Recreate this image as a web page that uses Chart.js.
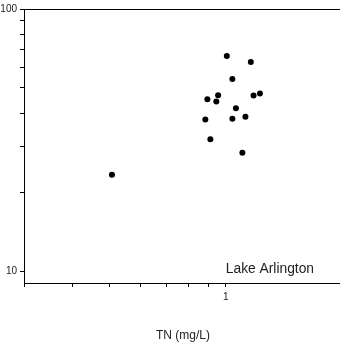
<!DOCTYPE html>
<html>
<head>
<meta charset="utf-8">
<script src="https://cdn.jsdelivr.net/npm/chart.js@4"></script>
<style>
  html, body { margin: 0; padding: 0; background: #fff; overflow: hidden; }
  #wrap { width: 346px; height: 349px; }
</style>
</head>
<body>
<div id="wrap"><canvas id="myChart"></canvas></div>
<script>
// TN vs chlorophyll values (log-log)
const tnValues = [1.006, 1.161, 1.040, 0.955, 0.896, 0.945, 1.180, 1.226, 1.062, 0.885, 1.040, 1.124, 0.912, 1.104, 0.507];
const yValues = [66.1, 62.7, 54.0, 46.9, 45.2, 44.4, 46.8, 47.6, 41.8, 37.9, 38.1, 38.8, 31.8, 28.3, 23.3];
// tick marks on each axis and the ones that get a label
const xTicks = [0.3, 0.4, 0.5, 0.6, 0.7, 0.8, 0.9, 1, 2];
const xLabels = [1];
const yTicks = [10, 20, 30, 40, 50, 60, 70, 80, 90, 100];
const yLabels = [10, 100];
const lakeName = "Lake Arlington";

let points = [];
tnValues.forEach((v, i) => points.push({x: v, y: yValues[i]}));

//Draws the top frame line and the lake name
const extras = {
  id: 'extras',
  afterDraw(chart) {
    const c = chart.ctx;
    const a = chart.chartArea;
    c.save();
    c.strokeStyle = '#000';
    c.lineWidth = 1;
    c.beginPath();
    c.moveTo(a.left, a.top + 0.5);
    c.lineTo(a.right, a.top + 0.5);
    c.stroke();
    c.fillStyle = '#222';
    c.font = '13.8px "Liberation Sans", Arial, sans-serif';
    c.textBaseline = 'alphabetic';
    c.fillText(lakeName, chart.scales.x.getPixelForValue(1), chart.scales.y.getPixelForValue(10) + 1.5);
    c.restore();
  }
};

Chart.defaults.font.family = '"Liberation Sans", Arial, sans-serif';
Chart.defaults.color = '#222';

const ctx = document.getElementById("myChart").getContext("2d");
let myChart = new Chart(ctx, {
  type: 'scatter',
  data: {
    datasets: [{
      data: points,
      backgroundColor: '#000',
      borderWidth: 0,
      pointRadius: 3,
      pointHoverRadius: 3
    }]
  },
  options: {
    responsive: true,
    maintainAspectRatio: false,
    animation: false,
    layout: {padding: {top: 9, right: 0, left: 0, bottom: 0}},
    scales: {
      x: {
        type: 'logarithmic',
        min: 0.3,
        max: 2,
        afterBuildTicks: (s) => { s.ticks = xTicks.map(v => ({value: v})); },
        afterFit: (s) => { s.height = 66; },
        grid: {drawOnChartArea: false, drawTicks: true, tickLength: 4, color: '#000'},
        border: {display: true, color: '#000', width: 1},
        ticks: {
          autoSkip: false,
          maxRotation: 0,
          padding: 4,
          font: {size: 10},
          color: '#222',
          callback: (v) => xLabels.includes(v) ? String(v) : ''
        },
        title: {
          display: true,
          text: 'TN (mg/L)',
          font: {size: 12},
          color: '#222',
          padding: {top: 0, bottom: 6}
        }
      },
      y: {
        type: 'logarithmic',
        min: 9,
        max: 100,
        afterBuildTicks: (s) => { s.ticks = yTicks.map(v => ({value: v})); },
        afterFit: (s) => { s.width = 24; },
        grid: {drawOnChartArea: false, drawTicks: true, tickLength: 4, color: '#000'},
        border: {display: true, color: '#000', width: 1},
        ticks: {
          autoSkip: false,
          padding: 3,
          font: {size: 10},
          color: '#222',
          callback: (v) => yLabels.includes(v) ? String(v) : ''
        }
      }
    },
    plugins: {
      legend: {display: false},
      tooltip: {enabled: false}
    }
  },
  plugins: [extras]
});
</script>
</body>
</html>
